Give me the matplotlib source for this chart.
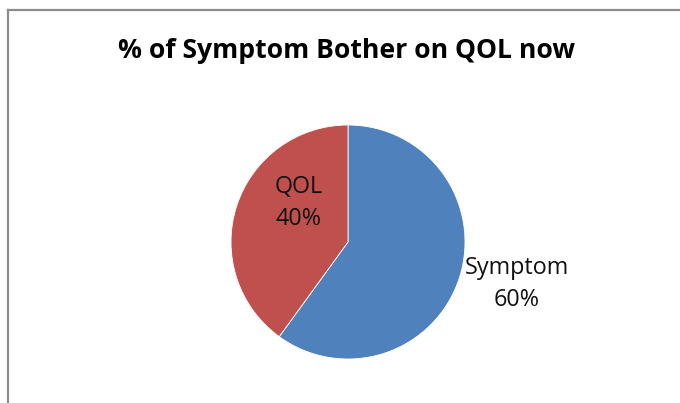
import matplotlib
matplotlib.use("Agg")
import matplotlib.pyplot as plt
from matplotlib.lines import Line2D

title = "% of Symptom Bother on QOL now"
categories = ["Symptom", "QOL"]
values = [60, 40]
colors = ["#4F81BD", "#C0504D"]

W, H = 680, 403
fig = plt.figure(figsize=(W / 100, H / 100), dpi=100)
fig.patch.set_facecolor("white")

# outer chart frame (only top and left edges are visible in the crop)
fig.add_artist(Line2D([8 / W, 8 / W], [0, 1 - 10 / H], color="#8c8c8c", lw=1.6,
                      transform=fig.transFigure))
fig.add_artist(Line2D([8 / W, 1], [1 - 10 / H, 1 - 10 / H], color="#8c8c8c", lw=1.6,
                      transform=fig.transFigure))

cx, cy, r = 348, 242, 117
ax = fig.add_axes([(cx - r) / W, 1 - (cy + r) / H, 2 * r / W, 2 * r / H])
wedges, _ = ax.pie(values, colors=colors, startangle=90, counterclock=False,
                   radius=1, wedgeprops=dict(linewidth=0.6, edgecolor="white"))
ax.set_xlim(-1, 1)
ax.set_ylim(-1, 1)
ax.set_aspect("equal")
ax.axis("off")

total = sum(values)
label_pos = {"Symptom": (1.44, -0.36), "QOL": (-0.42, 0.33)}
for cat, v in zip(categories, values):
    x, y = label_pos[cat]
    ax.text(x, y, f"{cat}\n{round(100 * v / total)}%", ha="center", va="center",
            fontsize=16.8, family="Open Sans", color="#111111", linespacing=1.45,
            clip_on=False)

fig.text(346 / W, 1 - 51 / H, title, ha="center", va="center", fontsize=19.1,
         fontweight="bold", family="Open Sans", color="black")

fig.savefig("out.png", dpi=100, facecolor="white")
